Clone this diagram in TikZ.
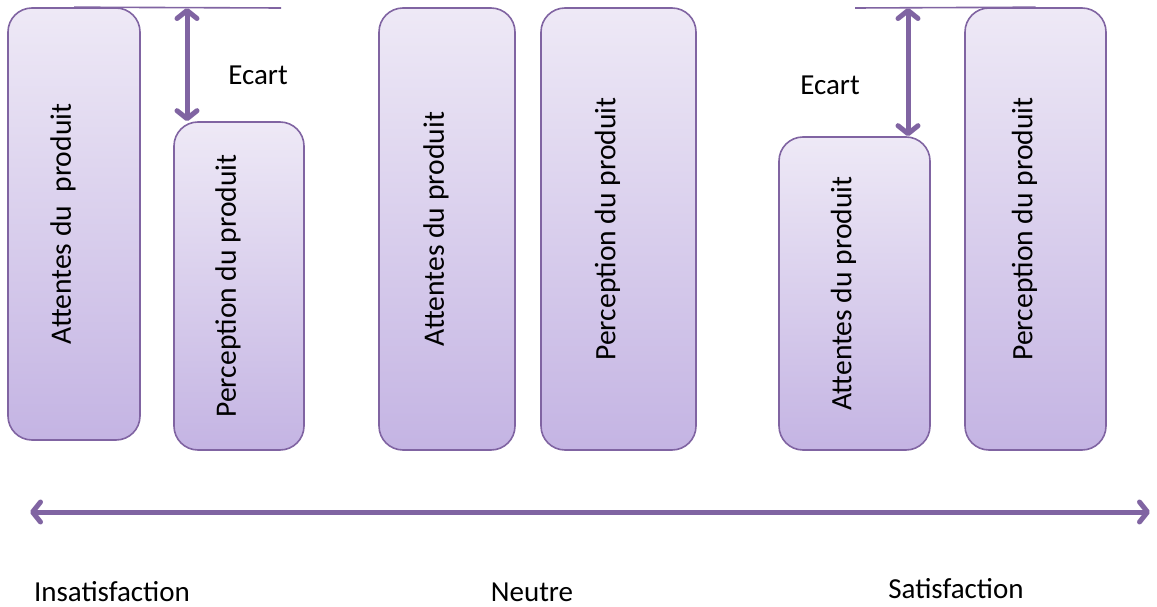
\documentclass[tikz,border=0pt]{standalone}
\usepackage{fontspec}
\setmainfont{Carlito}
\usepackage{graphicx}
\usetikzlibrary{arrows.meta}
\definecolor{lilaline}{RGB}{128,100,162}
\definecolor{lilatop}{RGB}{238,233,246}
\definecolor{lilabot}{RGB}{196,180,227}
\newcommand{\vtext}[1]{\rotatebox{90}{#1}\rule{22pt}{0pt}}
\begin{document}
\begin{tikzpicture}[x=1pt, y=-1pt]
\tikzset{box/.style={rectangle, rounded corners=24pt, draw=lilaline, line width=1.6pt, top color=lilatop, bottom color=lilabot, inner sep=0pt, font=\fontsize{29.6}{35}\selectfont}}
\tikzset{arrow/.style={{Straight Barb[round, length=8pt, width=20pt]}-{Straight Barb[round, length=8pt, width=20pt]}, line width=5pt, draw=lilaline, line cap=round}}
\tikzset{lbl/.style={font=\fontsize{29}{35}\selectfont, inner sep=0pt}}
\useasboundingbox (0,0) rectangle (1157,607);

\node[box, minimum width=132pt, minimum height=432pt] (att1) at (74,224) {\vtext{Attentes du\ \ produit}};
\node[box, minimum width=130pt, minimum height=328pt] (perc1) at (239,286) {\vtext{Perception du produit}};
\node[box, minimum width=136pt, minimum height=442pt] (att2) at (447,229) {\vtext{Attentes du produit}};
\node[box, minimum width=155pt, minimum height=442pt] (perc2) at (618.5,229) {\vtext{Perception du produit}};
\node[box, minimum width=151pt, minimum height=313pt] (att3) at (854.5,293.5) {\vtext{Attentes du produit}};
\node[box, minimum width=141pt, minimum height=442pt] (perc3) at (1035.5,229) {\vtext{Perception du produit}};

% ecart gauche
\coordinate (top1) at (281,8);
\coordinate (gap1) at (187,8);
\draw[lilaline, line width=1.6pt] (att1.north) -- (top1);
\draw[arrow] (gap1) -- (gap1 |- perc1.north);
\node[lbl] (ecart1) at (258,75) {Ecart};

% ecart droite
\coordinate (top2) at (855,8);
\coordinate (gap2) at (908,8);
\draw[lilaline, line width=1.6pt] (top2) -- (perc3.north);
\draw[arrow] (gap2) -- (gap2 |- att3.north);
\node[lbl] (ecart2) at (830,85) {Ecart};

% axe
\coordinate (axl) at (30,512);
\coordinate (axr) at (1150,512);
\draw[arrow] (axl) -- (axr);
\node[lbl] (insat) at (112,592) {Insatisfaction};
\node[lbl] (neutre) at (532,592) {Neutre};
\node[lbl] (sat) at (956,589) {Satisfaction};
\end{tikzpicture}
\end{document}
